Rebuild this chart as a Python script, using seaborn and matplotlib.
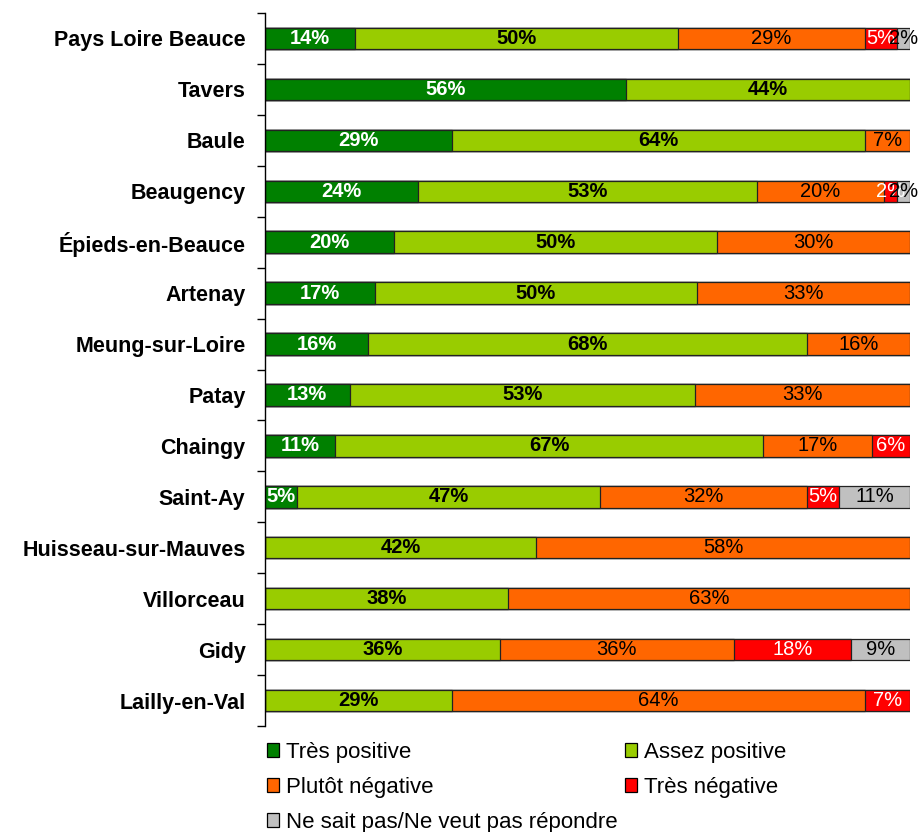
import matplotlib
matplotlib.use("Agg")
import matplotlib.pyplot as plt
import seaborn as sns
import pandas as pd
import numpy as np
from matplotlib.patches import Patch

communes = ["Pays Loire Beauce", "Tavers", "Baule", "Beaugency", "Épieds-en-Beauce",
            "Artenay", "Meung-sur-Loire", "Patay", "Chaingy", "Saint-Ay",
            "Huisseau-sur-Mauves", "Villorceau", "Gidy", "Lailly-en-Val"]
series = ["Très positive", "Assez positive", "Plutôt négative", "Très négative",
          "Ne sait pas/Ne veut pas répondre"]
tres_positive = [14, 56, 29, 24, 20, 17, 16, 13, 11, 5, 0, 0, 0, 0]
assez_positive = [50, 44, 64, 53, 50, 50, 68, 53, 67, 47, 42, 38, 36, 29]
plutot_negative = [29, 0, 7, 20, 30, 33, 16, 33, 17, 32, 58, 63, 36, 64]
tres_negative = [5, 0, 0, 2, 0, 0, 0, 0, 6, 5, 0, 0, 18, 7]
nsp = [2, 0, 0, 2, 0, 0, 0, 0, 0, 11, 0, 0, 9, 0]
colors = ["#008000", "#99CC00", "#FF6600", "#FF0000", "#C0C0C0"]
label_colors = ["white", "black", "black", "white", "black"]
label_weights = ["bold", "bold", "normal", "normal", "normal"]

sns.set_style("white")
plt.rcParams["font.family"] = ["Liberation Sans", "DejaVu Sans"]
plt.rcParams["text.color"] = "black"

vals = np.array([tres_positive, assez_positive, plutot_negative, tres_negative, nsp], dtype=float)
shares = vals / vals.sum(axis=0) * 100
cum = np.cumsum(shares, axis=0)

fig = plt.figure(figsize=(9.21, 8.32), dpi=100)
ax = fig.add_axes([265/921, 1 - 726/832, 645/921, (726 - 13)/832])

for i in range(len(series) - 1, -1, -1):
    df = pd.DataFrame({"commune": communes, "cum": cum[i]})
    sns.barplot(data=df, x="cum", y="commune", orient="h", color=colors[i],
                edgecolor="#222222", linewidth=0.9, width=0.42, ax=ax,
                saturation=1)

for i in range(len(series)):
    for j, c in enumerate(communes):
        v = vals[i, j]
        if v <= 0:
            continue
        left = cum[i, j] - shares[i, j]
        ax.text(left + shares[i, j] / 2, j, f"{int(v)}%", ha="center", va="center",
                color=label_colors[i], fontweight=label_weights[i], fontsize=14.5)

ax.set_xlim(0, 100)
ax.set_ylim(len(communes) - 0.5, -0.5)
ax.set_xlabel("")
ax.set_ylabel("")
ax.set_xticks([])
for s in ["top", "right", "bottom"]:
    ax.spines[s].set_visible(False)
ax.spines["left"].set_color("black")
ax.spines["left"].set_linewidth(1.0)
ax.set_yticks(range(len(communes)))
ax.set_yticklabels(communes, fontsize=15.5, fontweight="bold", color="black")
ax.set_yticks(np.arange(-0.5, len(communes), 1), minor=True)
ax.tick_params(axis="y", which="major", length=0, pad=14)
ax.tick_params(axis="y", which="minor", length=6, width=1, color="black", left=True)

handles = [Patch(facecolor=colors[i], edgecolor="black", linewidth=0.9, label=series[i])
           for i in range(len(series))]
order = [0, 2, 4, 1, 3]
fig.legend([handles[k] for k in order], [series[k] for k in order], ncol=2,
           loc="upper left", bbox_to_anchor=(267/921, 1 - 742/832), frameon=False,
           fontsize=16, handlelength=0.55, handleheight=0.55, handletextpad=0.3,
           columnspacing=0.32, labelspacing=0.63, borderaxespad=0, borderpad=0)

fig.savefig("out.png", dpi=100)
